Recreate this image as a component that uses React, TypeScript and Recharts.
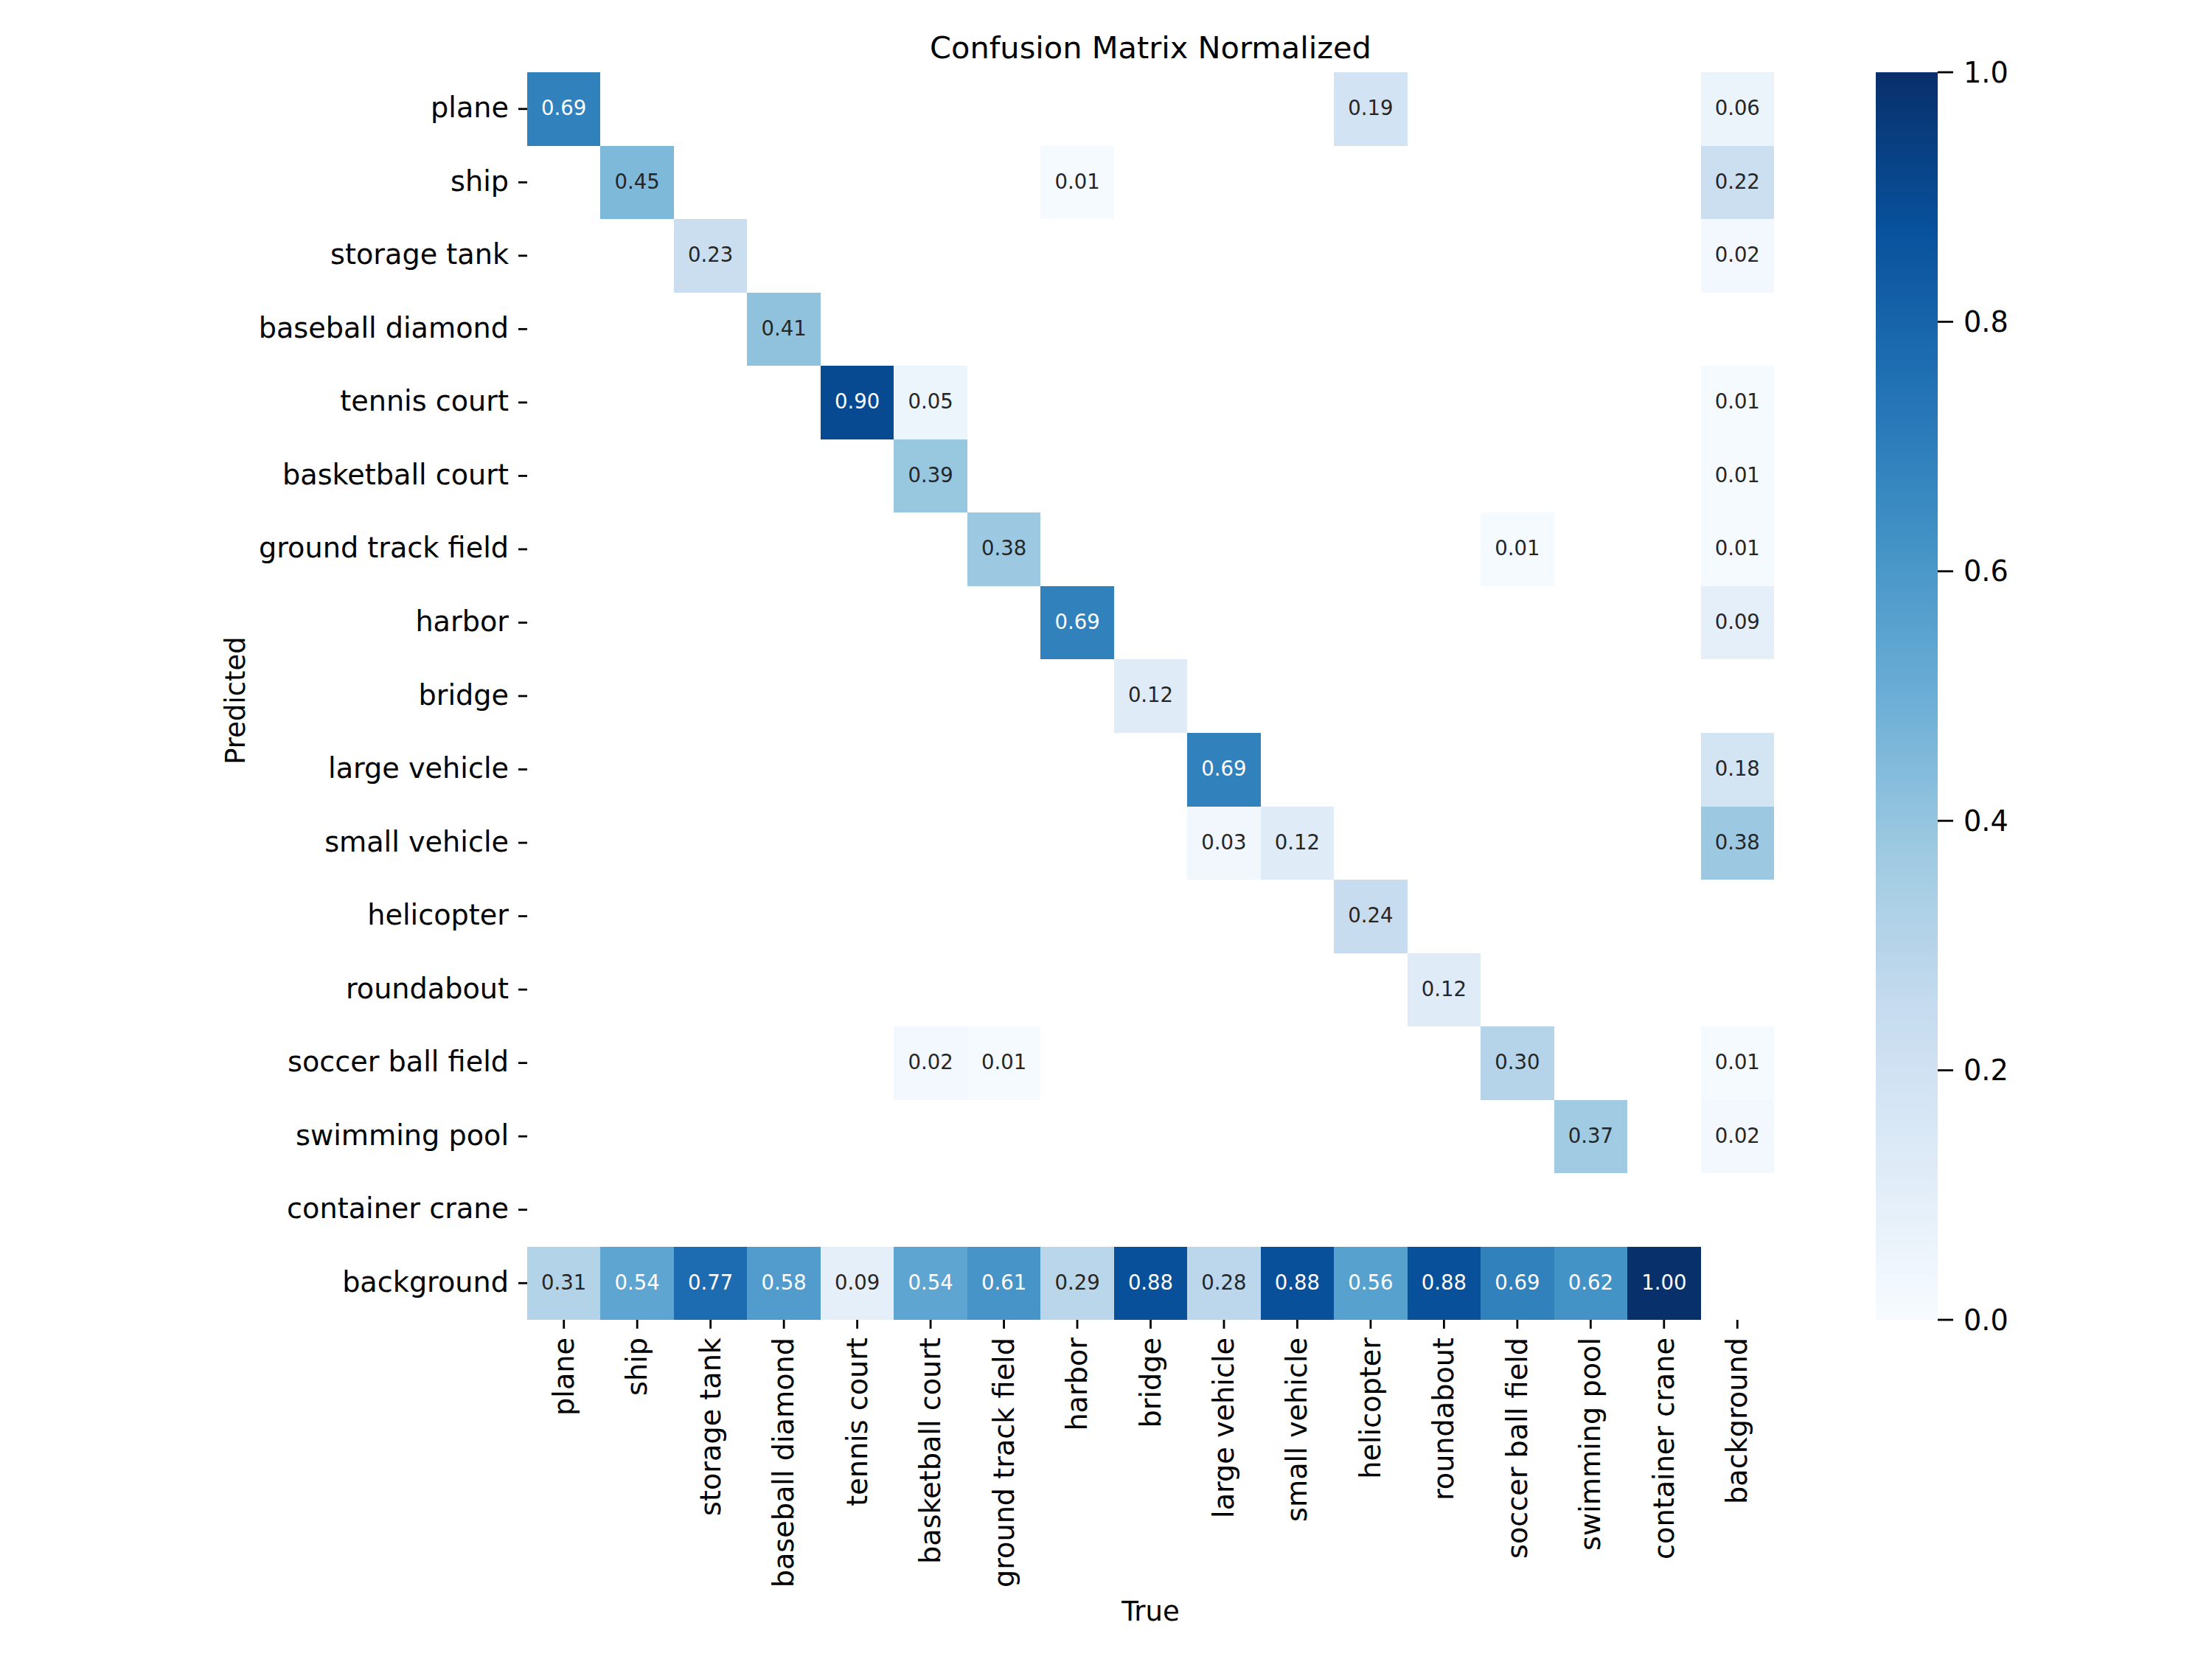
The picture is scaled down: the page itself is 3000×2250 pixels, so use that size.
import React from "react";
import { BarChart, Bar, XAxis, YAxis, Cell, LabelList } from "recharts";

// class names, same order for predicted (rows) and true (columns)
const classNames = [
  "plane",
  "ship",
  "storage tank",
  "baseball diamond",
  "tennis court",
  "basketball court",
  "ground track field",
  "harbor",
  "bridge",
  "large vehicle",
  "small vehicle",
  "helicopter",
  "roundabout",
  "soccer ball field",
  "swimming pool",
  "container crane",
  "background",
];

// one array per predicted class, values per true class
const predPlane = [0.69, 0, 0, 0, 0, 0, 0, 0, 0, 0, 0, 0.19, 0, 0, 0, 0, 0.06];
const predShip = [0, 0.45, 0, 0, 0, 0, 0, 0.01, 0, 0, 0, 0, 0, 0, 0, 0, 0.22];
const predStorageTank = [0, 0, 0.23, 0, 0, 0, 0, 0, 0, 0, 0, 0, 0, 0, 0, 0, 0.02];
const predBaseballDiamond = [0, 0, 0, 0.41, 0, 0, 0, 0, 0, 0, 0, 0, 0, 0, 0, 0, 0];
const predTennisCourt = [0, 0, 0, 0, 0.9, 0.05, 0, 0, 0, 0, 0, 0, 0, 0, 0, 0, 0.01];
const predBasketballCourt = [0, 0, 0, 0, 0, 0.39, 0, 0, 0, 0, 0, 0, 0, 0, 0, 0, 0.01];
const predGroundTrackField = [0, 0, 0, 0, 0, 0, 0.38, 0, 0, 0, 0, 0, 0, 0.01, 0, 0, 0.01];
const predHarbor = [0, 0, 0, 0, 0, 0, 0, 0.69, 0, 0, 0, 0, 0, 0, 0, 0, 0.09];
const predBridge = [0, 0, 0, 0, 0, 0, 0, 0, 0.12, 0, 0, 0, 0, 0, 0, 0, 0];
const predLargeVehicle = [0, 0, 0, 0, 0, 0, 0, 0, 0, 0.69, 0, 0, 0, 0, 0, 0, 0.18];
const predSmallVehicle = [0, 0, 0, 0, 0, 0, 0, 0, 0, 0.03, 0.12, 0, 0, 0, 0, 0, 0.38];
const predHelicopter = [0, 0, 0, 0, 0, 0, 0, 0, 0, 0, 0, 0.24, 0, 0, 0, 0, 0];
const predRoundabout = [0, 0, 0, 0, 0, 0, 0, 0, 0, 0, 0, 0, 0.12, 0, 0, 0, 0];
const predSoccerBallField = [0, 0, 0, 0, 0, 0.02, 0.01, 0, 0, 0, 0, 0, 0, 0.3, 0, 0, 0.01];
const predSwimmingPool = [0, 0, 0, 0, 0, 0, 0, 0, 0, 0, 0, 0, 0, 0, 0.37, 0, 0.02];
const predContainerCrane = [0, 0, 0, 0, 0, 0, 0, 0, 0, 0, 0, 0, 0, 0, 0, 0, 0];
const predBackground = [0.31, 0.54, 0.77, 0.58, 0.09, 0.54, 0.61, 0.29, 0.88, 0.28, 0.88, 0.56, 0.88, 0.69, 0.62, 1.0, 0];

const matrixRows = [
  predPlane,
  predShip,
  predStorageTank,
  predBaseballDiamond,
  predTennisCourt,
  predBasketballCourt,
  predGroundTrackField,
  predHarbor,
  predBridge,
  predLargeVehicle,
  predSmallVehicle,
  predHelicopter,
  predRoundabout,
  predSoccerBallField,
  predSwimmingPool,
  predContainerCrane,
  predBackground,
];

const colorbarTicks = [0, 0.2, 0.4, 0.6, 0.8, 1.0];

// matplotlib "Blues"
const BLUES = ["#f7fbff", "#deebf7", "#c6dbef", "#9ecae1", "#6baed6", "#4292c6", "#2171b5", "#08519c", "#08306b"];

const FONT = "'DejaVu Sans', sans-serif";
const TICK_FONT = 38.2;

const PLOT_LEFT = 715;
const PLOT_TOP = 98;
const PLOT_W = 1691;
const PLOT_H = 1692;
const Y_AXIS_W = 400;
const X_AXIS_H = 400;
const ROW_BAND = PLOT_H / classNames.length;

function hexToRgb(h: string) {
  return [1, 3, 5].map((i) => parseInt(h.slice(i, i + 2), 16));
}

function bluesRgb(v: number) {
  const t = Math.min(Math.max(v, 0), 1) * (BLUES.length - 1);
  const i = Math.min(Math.floor(t), BLUES.length - 2);
  const f = t - i;
  const a = hexToRgb(BLUES[i]);
  const b = hexToRgb(BLUES[i + 1]);
  return a.map((c, k) => c + (b[k] - c) * f);
}

function bluesColor(v: number) {
  const [r, g, b] = bluesRgb(v).map((c) => Math.round(c));
  return `rgb(${r},${g},${b})`;
}

// seaborn picks annotation colour from the cell luminance
function textColor(v: number) {
  const lin = bluesRgb(v).map((c) => {
    const s = c / 255;
    return s <= 0.03928 ? s / 12.92 : Math.pow((s + 0.055) / 1.055, 2.4);
  });
  const lum = 0.2126 * lin[0] + 0.7152 * lin[1] + 0.0722 * lin[2];
  return lum > 0.408 ? "#262626" : "#ffffff";
}

const chartData = matrixRows.map((vals, r) => {
  const row: Record<string, any> = { name: classNames[r] };
  vals.forEach((v, c) => {
    row[`c${c}`] = 1; // unit-width cell
    row[`v${c}`] = v;
  });
  return row;
});

// bar rect stretched to the full row band so rows touch
const CellShape = (props: any) => {
  const { x, y, width, height, fill } = props;
  if (!fill || fill === "transparent") return null;
  const cy = Number(y) + Number(height) / 2;
  return (
    <rect
      x={x}
      y={cy - ROW_BAND / 2}
      width={width}
      height={ROW_BAND}
      fill={fill}
      shapeRendering="crispEdges"
    />
  );
};

const renderAnnot = (props: any) => {
  const { x, y, width, height, value } = props;
  if (!(value >= 0.005)) return null;
  return (
    <text
      x={Number(x) + Number(width) / 2}
      y={Number(y) + Number(height) / 2}
      dy="0.3em"
      textAnchor="middle"
      fontSize={27.5}
      fontFamily={FONT}
      fill={textColor(value)}
    >
      {Number(value).toFixed(2)}
    </text>
  );
};

const YTick = (props: any) => {
  const { x, y, payload } = props;
  return (
    <text x={x} y={y} dy={11.5} textAnchor="end" fontSize={TICK_FONT} fontFamily={FONT} fill="#000">
      {payload.value}
    </text>
  );
};

const XTick = (props: any) => {
  const { x, y, payload } = props;
  const label = classNames[Math.floor(payload.value)];
  return (
    <text
      x={x}
      y={y}
      dy={13}
      textAnchor="end"
      transform={`rotate(-90, ${x}, ${y})`}
      fontSize={TICK_FONT}
      fontFamily={FONT}
      fill="#000"
    >
      {label}
    </text>
  );
};

export default function App() {
  const centerX = PLOT_LEFT + PLOT_W / 2;
  return (
    <div
      style={{
        position: "absolute",
        left: 0,
        top: 0,
        width: 3000,
        height: 2250,
        background: "#fff",
        fontFamily: FONT,
      }}
    >
      <div style={{ position: "absolute", left: 0, top: 0 }}>
        <BarChart
          width={3000}
          height={2250}
          data={chartData}
          layout="vertical"
          barCategoryGap={0}
          barGap={0}
          margin={{
            top: PLOT_TOP,
            left: PLOT_LEFT - Y_AXIS_W,
            right: 3000 - PLOT_LEFT - PLOT_W,
            bottom: 2250 - PLOT_TOP - PLOT_H - X_AXIS_H,
          }}
        >
          <XAxis
            type="number"
            domain={[0, classNames.length]}
            ticks={classNames.map((_, i) => i + 0.5)}
            interval={0}
            height={X_AXIS_H}
            axisLine={false}
            tickSize={12}
            tickMargin={12}
            tickLine={{ stroke: "#000", strokeWidth: 2.8 }}
            tick={<XTick />}
          />
          <YAxis
            type="category"
            dataKey="name"
            width={Y_AXIS_W}
            interval={0}
            axisLine={false}
            tickSize={12}
            tickMargin={13}
            tickLine={{ stroke: "#000", strokeWidth: 2.8 }}
            tick={<YTick />}
          />
          {classNames.map((_, c) => (
            <Bar
              key={c}
              dataKey={`c${c}`}
              stackId="cm"
              isAnimationActive={false}
              shape={<CellShape />}
            >
              {matrixRows.map((vals, r) => (
                <Cell key={r} fill={vals[c] >= 0.005 ? bluesColor(vals[c]) : "transparent"} />
              ))}
              <LabelList dataKey={`v${c}`} content={renderAnnot} />
            </Bar>
          ))}
        </BarChart>
      </div>

      {/* colorbar */}
      <div style={{ position: "absolute", left: 2500, top: 0 }}>
        <BarChart
          width={400}
          height={2250}
          data={[{ k: "cb", v: 1 }]}
          barCategoryGap={0}
          margin={{ top: PLOT_TOP, bottom: 2250 - PLOT_TOP - PLOT_H, left: 44, right: 172 }}
        >
          <defs>
            <linearGradient id="bluesGrad" x1="0" y1="1" x2="0" y2="0">
              {BLUES.map((c, i) => (
                <stop key={i} offset={i / (BLUES.length - 1)} stopColor={c} />
              ))}
            </linearGradient>
          </defs>
          <XAxis dataKey="k" hide />
          <YAxis
            orientation="right"
            type="number"
            domain={[0, 1]}
            ticks={colorbarTicks}
            interval={0}
            width={100}
            axisLine={false}
            tickSize={21}
            tickMargin={14}
            tickLine={{ stroke: "#000", strokeWidth: 2.8 }}
            tick={{ fontSize: TICK_FONT, fill: "#000", fontFamily: FONT }}
            tickFormatter={(v: number) => v.toFixed(1)}
          />
          <Bar dataKey="v" fill="url(#bluesGrad)" isAnimationActive={false} />
        </BarChart>
      </div>

      {/* title and axis titles */}
      <svg
        width={3000}
        height={2250}
        style={{ position: "absolute", left: 0, top: 0, pointerEvents: "none" }}
      >
        <text x={centerX} y={79} textAnchor="middle" fontSize={41.5} fontFamily={FONT} fill="#000">
          Confusion Matrix Normalized
        </text>
        <text x={centerX} y={2198} textAnchor="middle" fontSize={37} fontFamily={FONT} fill="#000">
          True
        </text>
        <text
          x={332}
          y={950}
          textAnchor="middle"
          transform="rotate(-90, 332, 950)"
          fontSize={37}
          fontFamily={FONT}
          fill="#000"
        >
          Predicted
        </text>
      </svg>
    </div>
  );
}
